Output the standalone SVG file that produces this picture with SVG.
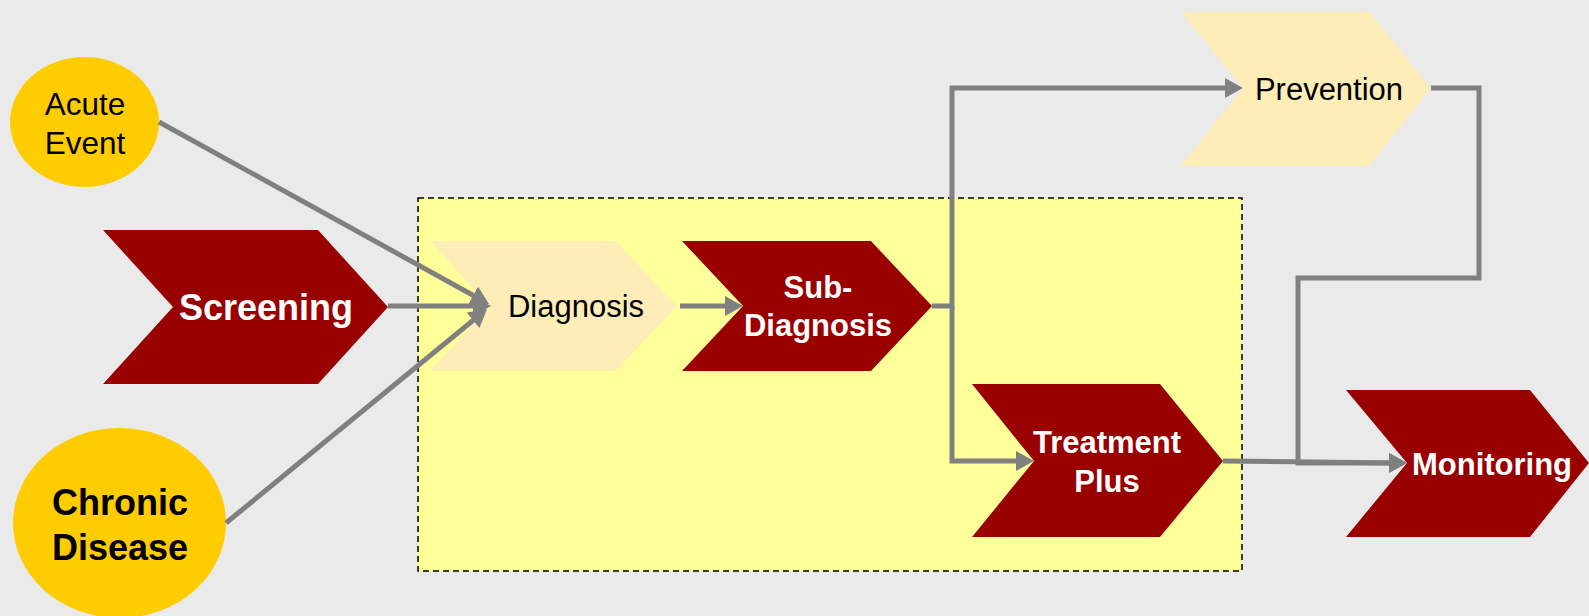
<svg xmlns="http://www.w3.org/2000/svg" width="1589" height="616" viewBox="0 0 1589 616">
<style>
.dark{fill:#990000}
.light{fill:#FFEDB8}
.oval{fill:#FFCC00}
.t{font-family:"Liberation Sans",Arial,sans-serif;text-anchor:middle}
.w{fill:#FFFFFF;font-weight:bold}
.k{fill:#000000}
.con{fill:none;stroke:#808080;stroke-width:5;stroke-linejoin:miter}
</style>
<defs>
<marker id="arr" markerUnits="userSpaceOnUse" markerWidth="20" markerHeight="20" refX="8" refY="10" orient="auto">
<path d="M0,0 L18,10 L0,20 z" fill="#808080"/>
</marker>
</defs>
<rect width="1589" height="616" fill="#EAEAEA"/>
<rect id="group-box" x="418" y="198" width="824" height="373" fill="#FFFF99" stroke="#000" stroke-width="1.5" stroke-dasharray="6,4"/>
<g id="acute-event">
<ellipse class="oval" cx="84.5" cy="122" rx="74.5" ry="65"/>
<text class="t k" x="85" y="115" font-size="31.5">Acute</text>
<text class="t k" x="85" y="154" font-size="31.5">Event</text>
</g>
<g id="screening">
<polygon class="dark" points="103,230 318,230 388,307 318,384 103,384 173,307"/>
<text class="t w" x="266" y="320" font-size="36">Screening</text>
</g>
<g id="chronic-disease">
<ellipse class="oval" cx="119.5" cy="523" rx="106.5" ry="95"/>
<text class="t k" x="120" y="515" font-size="36" font-weight="bold">Chronic</text>
<text class="t k" x="120" y="560" font-size="36" font-weight="bold">Disease</text>
</g>
<g id="diagnosis">
<polygon class="light" points="430,241 616,241 677,306 616,371 430,371 489,306"/>
<text class="t k" x="576" y="317" font-size="31">Diagnosis</text>
</g>
<g id="sub-diagnosis">
<polygon class="dark" points="682,241 871,241 932,306 871,371 682,371 743,306"/>
<text class="t w" x="818" y="298" font-size="31">Sub-</text>
<text class="t w" x="818" y="336" font-size="31">Diagnosis</text>
</g>
<g id="prevention">
<polygon class="light" points="1181,12 1369,12 1431,88 1369,166 1181,166 1243,88"/>
<text class="t k" x="1329" y="100" font-size="31">Prevention</text>
</g>
<g id="treatment-plus">
<polygon class="dark" points="972,384 1160,384 1223,461 1160,537 972,537 1034,461"/>
<text class="t w" x="1107" y="453" font-size="31">Treatment</text>
<text class="t w" x="1107" y="492" font-size="31">Plus</text>
</g>
<g id="monitoring">
<polygon class="dark" points="1346,390 1530,390 1589,463 1530,537 1346,537 1407,463"/>
<text class="t w" x="1492" y="475" font-size="31">Monitoring</text>
</g>
<g id="connectors">
<path class="con" d="M159,122 L480.2,299.2" marker-end="url(#arr)"/>
<path class="con" d="M388,306 L481,306" marker-end="url(#arr)"/>
<path class="con" d="M226,523 L479.3,315.3" marker-end="url(#arr)"/>
<path class="con" d="M680,306 H733" marker-end="url(#arr)"/>
<path class="con" d="M932,306 H952 V88 H1233" marker-end="url(#arr)"/>
<path class="con" d="M952,306 V461 H1024" marker-end="url(#arr)"/>
<path class="con" d="M1431,88 H1479 V278 H1298 V463 H1397" marker-end="url(#arr)"/>
<path class="con" d="M1223,461 L1397,463" marker-end="url(#arr)"/>
</g>
</svg>
